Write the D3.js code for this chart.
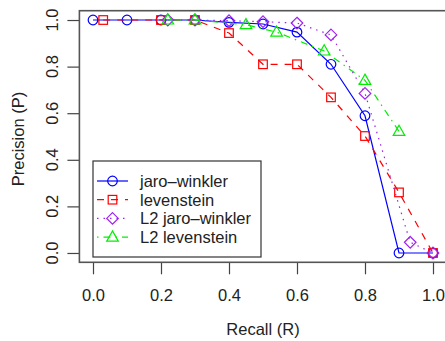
<!DOCTYPE html>
<html lang="en">
<head>
<meta charset="UTF-8">
<title>Precision vs Recall</title>
<script src="https://d3js.org/d3.v7.min.js"></script>
<style>
    body { margin: 0; background: #fff; }
    svg { display: block; }
    text { font-family: "Liberation Sans", Arial, sans-serif; font-size: 16.5px; fill: #222; }
</style>
</head>
<body>
<svg id="chart" width="445" height="341"></svg>
<script>
// series
const jwRecall = [0, 0.1, 0.2, 0.3, 0.4, 0.5, 0.6, 0.7, 0.8, 0.9, 1.0];
const jwPrec   = [1, 1, 1, 1, 0.99, 0.983, 0.948, 0.81, 0.589, 0, 0];

const levRecall = [0.03, 0.2, 0.3, 0.4, 0.5, 0.6, 0.7, 0.8, 0.9, 1.0];
const levPrec   = [1, 1, 1, 0.944, 0.81, 0.81, 0.668, 0.502, 0.26, 0];

const l2jwRecall = [0.22, 0.3, 0.4, 0.5, 0.6, 0.7, 0.8, 0.933, 1.0];
const l2jwPrec   = [1, 1, 0.997, 0.993, 0.987, 0.936, 0.685, 0.046, 0];

const l2levRecall = [0.22, 0.3, 0.45, 0.54, 0.68, 0.8, 0.9];
const l2levPrec   = [1, 1, 0.98, 0.948, 0.867, 0.741, 0.522];

const tickVals = [0, 0.2, 0.4, 0.6, 0.8, 1.0];
const seriesNames = ["jaro\u2013winkler", "levenstein", "L2 jaro\u2013winkler", "L2 levenstein"];

const svg = d3.select('#chart');

// R style: axis range padded by 4%
const x = d3.scaleLinear().domain([-0.04, 1.04]).range([79.4, 446.6]);
const y = d3.scaleLinear().domain([-0.04, 1.04]).range([262.3, 10.7]);

const series = [
    {name: seriesNames[0], xs: jwRecall, ys: jwPrec, color: '#0000ff', dash: null, shape: 'circle'},
    {name: seriesNames[1], xs: levRecall, ys: levPrec, color: '#ff0000', dash: '7,7', shape: 'square'},
    {name: seriesNames[2], xs: l2jwRecall, ys: l2jwPrec, color: '#a020f0', dash: '1.5,5', shape: 'diamond'},
    {name: seriesNames[3], xs: l2levRecall, ys: l2levPrec, color: '#00ee00', dash: '1.5,5,7,5', shape: 'triangle'}
];

function marker(g, shape, color) {
    if (shape === 'circle') {
        g.append('circle').attr('r', 4.8);
    } else if (shape === 'square') {
        g.append('rect').attr('x', -4.3).attr('y', -4.3).attr('width', 8.6).attr('height', 8.6);
    } else if (shape === 'diamond') {
        g.append('path').attr('d', 'M0,-5.8L5.8,0L0,5.8L-5.8,0Z');
    } else {
        g.append('path').attr('d', 'M0,-6.2L5.8,4L-5.8,4Z');
    }
    g.selectAll('*').attr('fill', 'none').attr('stroke', color).attr('stroke-width', 1.2);
}

const line = d3.line().x(d => x(d[0])).y(d => y(d[1]));

// axes
const xAxis = svg.append('g')
    .attr('transform', `translate(0,${y.range()[0]})`)
    .call(d3.axisBottom(x).tickValues(tickVals).tickSize(12).tickPadding(15).tickFormat(d3.format('.1f')));
xAxis.select('.domain').remove();
xAxis.selectAll('line').attr('stroke', '#444').attr('stroke-width', 1.2);
xAxis.selectAll('text').attr('font-size', null).attr('font-family', null);

const yAxis = svg.append('g')
    .attr('transform', `translate(${x.range()[0]},0)`)
    .call(d3.axisLeft(y).tickValues(tickVals).tickSize(12).tickFormat(''));
yAxis.select('.domain').remove();
yAxis.selectAll('line').attr('stroke', '#444').attr('stroke-width', 1.2);

svg.append('g').selectAll('text')
    .data(tickVals)
    .join('text')
    .attr('transform', d => `translate(58,${y(d)}) rotate(-90)`)
    .attr('text-anchor', 'middle')
    .text(d3.format('.1f'));

// plot box
svg.append('rect')
    .attr('x', x.range()[0]).attr('y', y.range()[1])
    .attr('width', x.range()[1] - x.range()[0])
    .attr('height', y.range()[0] - y.range()[1])
    .attr('fill', 'none').attr('stroke', '#555').attr('stroke-width', 1.6);

// series
series.forEach(s => {
    const pts = s.xs.map((v, i) => [v, s.ys[i]]);
    svg.append('path')
        .attr('d', line(pts))
        .attr('fill', 'none')
        .attr('stroke', s.color)
        .attr('stroke-width', 1.2)
        .attr('stroke-dasharray', s.dash);
    pts.forEach(p => {
        const g = svg.append('g').attr('transform', `translate(${x(p[0])},${y(p[1])})`);
        marker(g, s.shape, s.color);
    });
});

// axis titles
svg.append('text')
    .attr('x', 263).attr('y', 335)
    .attr('text-anchor', 'middle')
    .text('Recall (R)');
svg.append('text')
    .attr('transform', 'translate(24,139) rotate(-90)')
    .attr('text-anchor', 'middle')
    .text('Precision (P)');

// legend
const legend = svg.append('g');
legend.append('rect')
    .attr('x', 93).attr('y', 161).attr('width', 168).attr('height', 96)
    .attr('fill', '#fff').attr('stroke', '#333').attr('stroke-width', 1.2);
series.forEach((s, i) => {
    const ly = 181 + i * 18.7;
    legend.append('line')
        .attr('x1', 97).attr('x2', 128).attr('y1', ly).attr('y2', ly)
        .attr('stroke', s.color).attr('stroke-width', 1.2)
        .attr('stroke-dasharray', s.dash);
    const g = legend.append('g').attr('transform', `translate(112.5,${ly})`);
    marker(g, s.shape, s.color);
    legend.append('text')
        .attr('x', 140).attr('y', ly + 6)
        .text(s.name);
});
</script>
</body>
</html>
